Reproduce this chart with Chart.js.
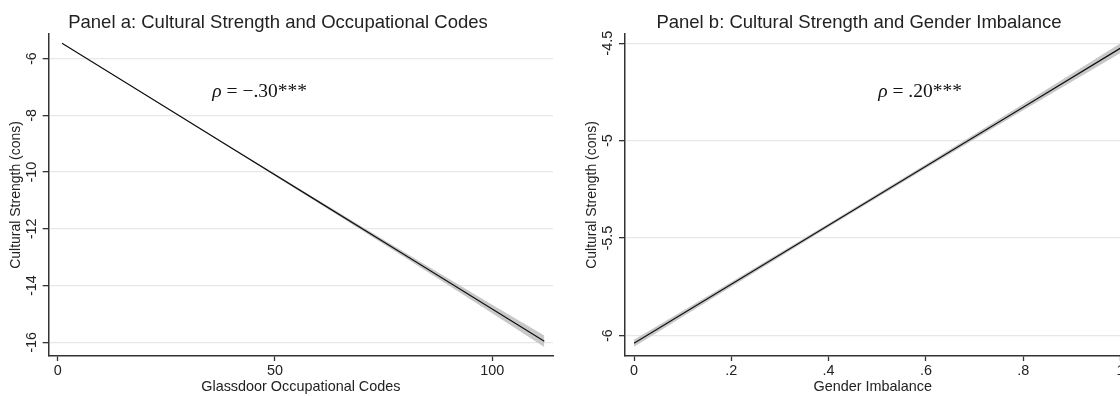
<!DOCTYPE html>
<html>
<head>
<meta charset="utf-8">
<script src="https://cdn.jsdelivr.net/npm/chart.js@4.4.1/dist/chart.umd.min.js"></script>
<style>
  html, body { margin: 0; padding: 0; background: #fff; overflow: hidden; }
  #wrap { position: relative; width: 1120px; height: 396px; overflow: hidden; background: #fff; }
  #wrap canvas { position: absolute; top: 0; }
  #chart-a { left: 0; }
  #chart-b { left: 560px; }
</style>
</head>
<body>
<div id="wrap">
  <canvas id="chart-a" width="556" height="396"></canvas>
  <canvas id="chart-b" width="598" height="396"></canvas>
</div>
<script>
// panel a: occupational codes
const xA = [1, 20, 40, 60, 80, 100, 112];
const fitA = [-5.46, -7.26, -9.15, -11.04, -12.93, -14.82, -15.96];
const loA = [-5.47, -7.275, -9.18, -11.09, -13.02, -14.97, -16.16];
const hiA = [-5.45, -7.245, -9.12, -10.99, -12.84, -14.67, -15.76];
const xTicksA = [0, 50, 100];
const xLabelsA = ['0', '50', '100'];
const yTicksA = [-16, -14, -12, -10, -8, -6];
const yLabelsA = ['-16', '-14', '-12', '-10', '-8', '-6'];
const rhoA = '\u2212.30***';

// panel b: gender imbalance
const xB = [0, 0.2, 0.4, 0.6, 0.8, 1];
const fitB = [-6.04, -5.737, -5.434, -5.131, -4.828, -4.525];
const loB = [-6.058, -5.749, -5.443, -5.141, -4.844, -4.55];
const hiB = [-6.022, -5.725, -5.425, -5.121, -4.812, -4.5];
const xTicksB = [0, 0.2, 0.4, 0.6, 0.8, 1];
const xLabelsB = ['0', '.2', '.4', '.6', '.8', '1'];
const yTicksB = [-6, -5.5, -5, -4.5];
const yLabelsB = ['-6', '-5.5', '-5', '-4.5'];
const rhoB = '.20***';

const sans = "'Liberation Sans', Arial, Helvetica, sans-serif";
const serif = "'Liberation Serif', 'Times New Roman', serif";
const ink = '#222';

// draws the rho annotation at a data position
const rhoLabel = {
  id: 'rhoLabel',
  afterDatasetsDraw(chart, args, opts) {
    if (!opts.text) return;
    const { ctx } = chart;
    const px = chart.scales.x.getPixelForValue(opts.x);
    const py = chart.scales.y.getPixelForValue(opts.y);
    const parts = [
      ['italic 19.5px ' + serif, '\u03C1'],
      ['19.5px ' + serif, ' = ' + opts.text]
    ];
    ctx.save();
    ctx.fillStyle = '#111';
    ctx.textBaseline = 'middle';
    ctx.textAlign = 'left';
    let total = 0;
    parts.forEach(p => { ctx.font = p[0]; total += ctx.measureText(p[1]).width; });
    let cx = px - total / 2;
    parts.forEach(p => {
      ctx.font = p[0];
      ctx.fillText(p[1], cx, py);
      cx += ctx.measureText(p[1]).width;
    });
    ctx.restore();
  }
};

function toPoints(xs, ys) {
  return xs.map((x, i) => ({ x: x, y: ys[i] }));
}

function makePanel(canvasId, cfg) {
  return new Chart(document.getElementById(canvasId), {
    type: 'line',
    data: {
      // first dataset is drawn on top, so the fitted line comes first
      datasets: [
        {
          data: toPoints(cfg.xs, cfg.fit),
          borderColor: '#111',
          borderWidth: 1.2,
          pointRadius: 0,
          fill: false
        },
        {
          data: toPoints(cfg.xs, cfg.hi),
          borderWidth: 0,
          borderColor: 'rgba(0,0,0,0)',
          pointRadius: 0,
          backgroundColor: 'rgb(200,200,200)',
          fill: '+1'
        },
        {
          data: toPoints(cfg.xs, cfg.lo),
          borderWidth: 0,
          borderColor: 'rgba(0,0,0,0)',
          pointRadius: 0,
          fill: false
        }
      ]
    },
    options: {
      responsive: false,
      animation: false,
      layout: { padding: 0 },
      plugins: {
        legend: { display: false },
        tooltip: { enabled: false },
        title: {
          display: true,
          text: cfg.title,
          color: ink,
          font: { family: sans, size: 18.5, weight: 'normal' },
          padding: { top: 11.7, bottom: 0 }
        },
        rhoLabel: { x: cfg.rhoAt[0], y: cfg.rhoAt[1], text: cfg.rho }
      },
      scales: {
        x: {
          type: 'linear',
          min: cfg.xMin,
          max: cfg.xMax,
          afterBuildTicks: s => { s.ticks = cfg.xTicks.map(v => ({ value: v })); },
          afterFit: s => { s.height = 40; },
          ticks: {
            callback: (v, i) => cfg.xLabels[i],
            maxRotation: 0,
            padding: 1.2,
            color: ink,
            font: { family: sans, size: 14.4 }
          },
          grid: { drawOnChartArea: false, tickLength: 5, tickColor: '#333', tickWidth: 1.3 },
          border: { color: '#333', width: 1.5 },
          title: {
            display: true,
            text: cfg.xTitle,
            color: ink,
            font: { family: sans, size: 14.4 },
            padding: { top: 0, bottom: 0 }
          }
        },
        y: {
          type: 'linear',
          position: 'left',
          min: cfg.yMin,
          max: cfg.yMax,
          afterBuildTicks: s => { s.ticks = cfg.yTicks.map(v => ({ value: v })); },
          afterFit: s => { s.width = cfg.yWidth; },
          ticks: {
            callback: (v, i) => cfg.yLabels[i],
            minRotation: 90,
            maxRotation: 90,
            crossAlign: 'center',
            padding: cfg.yTickPad,
            color: ink,
            font: { family: sans, size: 14.4 }
          },
          grid: { color: '#e8e8e8', lineWidth: 1.3, tickLength: 6, tickColor: '#333', tickWidth: 1.3 },
          border: { color: '#333', width: 1.5 },
          title: {
            display: true,
            text: 'Cultural Strength (cons)',
            color: ink,
            font: { family: sans, size: 14 },
            padding: { top: cfg.yTitlePad, bottom: 0 }
          }
        },
        // empty right axis, only keeps the title centred like the original
        yr: {
          type: 'linear',
          position: 'right',
          display: true,
          afterFit: s => { s.width = cfg.rightSpace; },
          ticks: { display: false },
          grid: { display: false },
          border: { display: false },
          title: { display: false }
        }
      }
    },
    plugins: [rhoLabel]
  });
}

makePanel('chart-a', {
  title: 'Panel a: Cultural Strength and Occupational Codes',
  xTitle: 'Glassdoor Occupational Codes',
  xs: xA, fit: fitA, lo: loA, hi: hiA,
  xMin: -2.07, xMax: 114, yMin: -16.48, yMax: -5.13,
  xTicks: xTicksA, xLabels: xLabelsA, yTicks: yTicksA, yLabels: yLabelsA,
  yWidth: 48.7, yTickPad: 0.3, yTitlePad: 7.6, rightSpace: 3,
  rho: rhoA, rhoAt: [46.5, -7.17]
});

makePanel('chart-b', {
  title: 'Panel b: Cultural Strength and Gender Imbalance',
  xTitle: 'Gender Imbalance',
  xs: xB, fit: fitB, lo: loB, hi: hiB,
  xMin: -0.0185, xMax: 1, yMin: -6.105, yMax: -4.452,
  xTicks: xTicksB, xLabels: xLabelsB, yTicks: yTicksB, yLabels: yLabelsB,
  yWidth: 65, yTickPad: -1.7, yTitlePad: 23.6, rightSpace: 37.5,
  rho: rhoB, rhoAt: [0.588, -4.75]
});
</script>
</body>
</html>
